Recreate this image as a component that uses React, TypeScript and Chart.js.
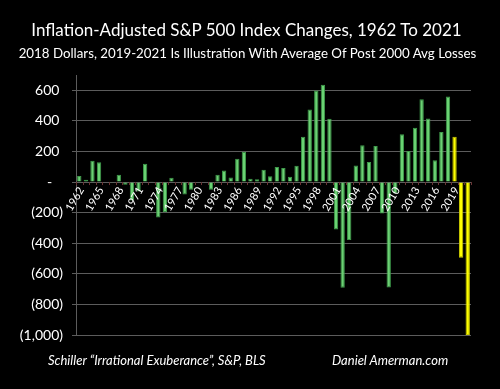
import React, { useEffect, useRef } from "react";
import { Chart, registerables } from "chart.js";

Chart.register(...registerables);

const years: number[] = [
  1962, 1963, 1964, 1965, 1966, 1967, 1968, 1969, 1970, 1971,
  1972, 1973, 1974, 1975, 1976, 1977, 1978, 1979, 1980, 1981,
  1982, 1983, 1984, 1985, 1986, 1987, 1988, 1989, 1990, 1991,
  1992, 1993, 1994, 1995, 1996, 1997, 1998, 1999, 2000, 2001,
  2002, 2003, 2004, 2005, 2006, 2007, 2008, 2009, 2010, 2011,
  2012, 2013, 2014, 2015, 2016, 2017, 2018, 2019, 2020, 2021,
];

const changes: number[] = [
  40, 15, 140, 130, 3, -4, 48, -17, -120, -61,
  120, 2, -232, -198, 28, 3, -82, -50, 3, -3,
  -50, 48, 76, 29, 153, 198, 22, 18, 81, 38,
  98, 92, 34, 107, 296, 474, 599, 636, 414, -310,
  -691, -379, 109, 240, 131, 235, -205, -689, -75, 312,
  203, 355, 541, 416, 142, 327, 560, 296, -495, -1000,
];

const labeledYears: number[] = [
  1962, 1965, 1968, 1971, 1974, 1977, 1980, 1983, 1986, 1989,
  1992, 1995, 1998, 2001, 2004, 2007, 2010, 2013, 2016, 2019,
];

const yTickValues: number[] = [-1000, -800, -600, -400, -200, 0, 200, 400, 600];
const illustrationYears: number[] = [2019, 2020, 2021];

const titleText = "Inflation-Adjusted S&P 500 Index Changes, 1962 To 2021";
const subtitleText = "2018 Dollars, 2019-2021 Is Illustration With Average Of Post 2000 Avg Losses";
const sourceText = "Schiller \u201cIrrational Exuberance\u201d, S&P, BLS";
const creditText = "Daniel Amerman.com";

const FONT = "Lato, 'Open Sans', sans-serif";

function fmtY(v: number): string {
  if (v === 0) return "-   ";
  const s = Math.abs(v).toLocaleString("en-US");
  return v < 0 ? `(${s})` : `${s} `;
}

const xLabelPlugin = {
  id: "xLabelsAtZero",
  afterDatasetsDraw(chart: any) {
    const { ctx } = chart;
    const xs = chart.scales.x;
    const ys = chart.scales.y;
    const zeroY = ys.getPixelForValue(0);
    const step = xs.getPixelForValue(1) - xs.getPixelForValue(0);
    ctx.save();
    ctx.strokeStyle = "#6a3434";
    ctx.lineWidth = 1;
    for (let i = 0; i <= years.length; i++) {
      const px = Math.round(xs.getPixelForValue(i) - step / 2) + 0.5;
      ctx.beginPath();
      ctx.moveTo(px, zeroY);
      ctx.lineTo(px, zeroY + 3);
      ctx.stroke();
    }
    ctx.fillStyle = "#ffffff";
    ctx.font = `11px ${FONT}`;
    ctx.textAlign = "right";
    ctx.textBaseline = "middle";
    years.forEach((yr, i) => {
      if (!labeledYears.includes(yr)) return;
      const px = xs.getPixelForValue(i);
      ctx.save();
      ctx.translate(px + 2, zeroY + 6);
      ctx.rotate(-Math.PI / 3);
      ctx.fillText(String(yr), 0, 0);
      ctx.restore();
    });
    ctx.restore();
  },
};

export default function App() {
  const canvasRef = useRef<HTMLCanvasElement | null>(null);

  useEffect(() => {
    if (!canvasRef.current) return;
    const isIllus = (y: number) => illustrationYears.includes(y);
    const chart = new Chart(canvasRef.current, {
      type: "bar",
      data: {
        labels: years.map(String),
        datasets: [
          {
            data: changes,
            backgroundColor: years.map((y) => (isIllus(y) ? "#ffff00" : "#6ad273")),
            borderColor: years.map((y) => (isIllus(y) ? "#c9c900" : "#3d9a4a")),
            borderWidth: 1,
            barPercentage: 0.66,
            categoryPercentage: 1,
          },
        ],
      },
      options: {
        responsive: false,
        animation: false,
        maintainAspectRatio: false,
        layout: { padding: { top: 75, right: 29, bottom: 54, left: 0 } },
        plugins: {
          legend: { display: false },
          title: { display: false },
          tooltip: { enabled: false },
        },
        scales: {
          x: {
            display: false,
          },
          y: {
            min: -1000,
            max: 700,
            afterBuildTicks: (s: any) => {
              s.ticks = yTickValues.map((v) => ({ value: v }));
            },
            afterFit: (s: any) => {
              s.width = 76;
            },
            grid: { color: "#5c5c5c", tickLength: 4, lineWidth: 1 },
            border: { display: true, color: "#5c5c5c" },
            ticks: {
              color: "#ffffff",
              padding: 9,
              font: { family: FONT, size: 14 },
              callback: (v: any) => fmtY(Number(v)),
            },
          },
        },
      },
      plugins: [xLabelPlugin],
    });
    return () => chart.destroy();
  }, []);

  const base: React.CSSProperties = {
    position: "absolute",
    color: "#ffffff",
    fontFamily: FONT,
    whiteSpace: "nowrap",
  };

  return (
    <div style={{ position: "fixed", left: 0, top: 0, width: 500, height: 389, background: "#000", overflow: "hidden" }}>
      <canvas ref={canvasRef} width={500} height={389} style={{ position: "absolute", left: 0, top: 0 }} />
      <div style={{ ...base, left: 0, width: 493, top: 19, textAlign: "center", fontSize: 17, lineHeight: "22px" }}>{titleText}</div>
      <div style={{ ...base, left: 0, width: 495, top: 44, textAlign: "center", fontSize: 13.3, lineHeight: "18px" }}>{subtitleText}</div>
      <div style={{ ...base, left: 48, top: 352, fontSize: 13, fontStyle: "italic", lineHeight: "16px" }}>{sourceText}</div>
      <div style={{ ...base, left: 332, top: 352, fontSize: 13, fontStyle: "italic", lineHeight: "16px" }}>{creditText}</div>
    </div>
  );
}
